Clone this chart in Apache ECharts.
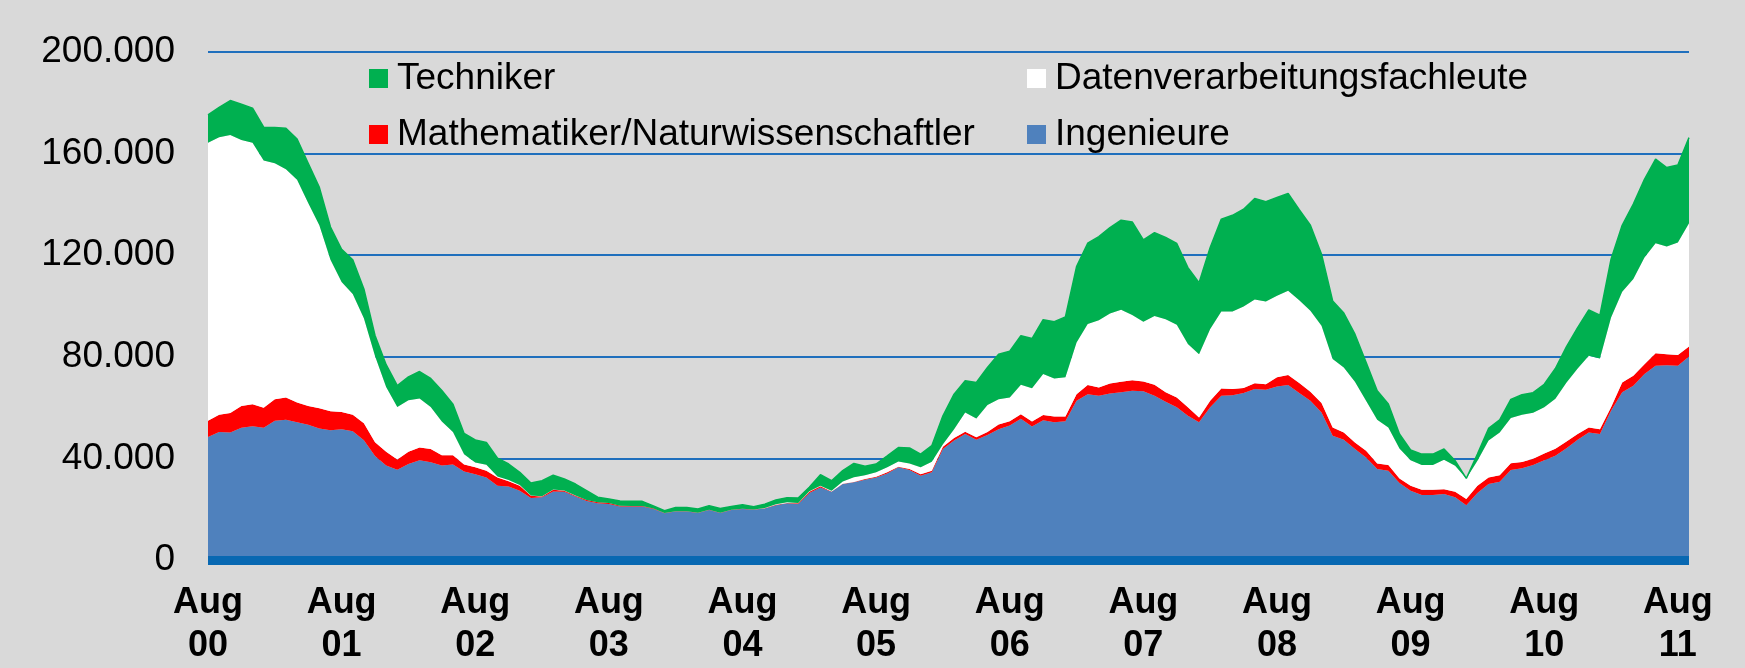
<!DOCTYPE html>
<html>
<head>
<meta charset="utf-8">
<script src="https://cdn.jsdelivr.net/npm/echarts@6/dist/echarts.min.js"></script>
<style>
  html, body { margin: 0; padding: 0; background: #d9d9d9; }
  #chart { width: 1745px; height: 668px; }
</style>
</head>
<body>
<div id="chart"></div>
<script>
// Monate Aug 2000 bis Sep 2011
var monthNames = ['Jan','Feb','Mrz','Apr','Mai','Jun','Jul','Aug','Sep','Okt','Nov','Dez'];
var categories = [];
for (var y = 2000; y <= 2011; y++) {
  for (var m = 0; m < 12; m++) {
    if (y === 2000 && m < 7) continue;
    if (y === 2011 && m > 8) continue;
    categories.push(monthNames[m] + ' ' + String(y).slice(2));
  }
}

var yTicks = [0, 40000, 80000, 120000, 160000, 200000];

// Offene Stellen (Personen)
var ingenieure = [
  48400, 50400, 50200, 52100, 52700, 52100, 54800, 55200, 54200, 53200,
  51800, 51100, 51500, 50700, 47100, 40900, 37200, 35500, 37800, 39300,
  38500, 37200, 37600, 34800, 33800, 32500, 29200, 28900, 27300, 24400,
  24700, 27000, 26900, 25000, 23200, 22300, 22000, 21100, 21100, 21100,
  20100, 18400, 19100, 19100, 18500, 19700, 18500, 19700, 20100, 19800,
  20300, 21600, 22300, 22000, 26400, 28500, 26900, 29900, 30600, 31600,
  32500, 34100, 36500, 35400, 33200, 34500, 43700, 47000, 49600, 47300,
  49200, 51500, 53000, 55600, 52600, 55000, 54200, 54600, 62700, 65300,
  64700, 65600, 66000, 66600, 66400, 64700, 62300, 60100, 56800, 54200,
  60100, 64700, 64900, 65700, 67300, 67000, 68300, 68900, 65700, 62700,
  58100, 48900, 47300, 43700, 40400, 35800, 35100, 30300, 27300, 25600,
  25600, 26000, 24700, 21600, 26400, 29900, 30800, 35400, 36100, 37400,
  39300, 41000, 44000, 47300, 50200, 49600, 58800, 66000, 68600, 73200,
  76500, 76700, 76500, 80100
];
var mathematiker = [
  6400, 6800, 7700, 8500, 8600, 7800, 8500, 8800, 7800, 7400,
  7900, 7500, 6800, 6500, 6700, 5500, 5400, 4100, 4800, 5000,
  5200, 4000, 3600, 2800, 2700, 2600, 3300, 2100, 1900, 900,
  300, 700, 400, 300, 400, 400, 400, 300, 200, 200,
  200, 100, 100, 100, 100, 100, 100, 100, 100, 100,
  100, 200, 100, 300, 500, 500, 100, 100, 100, 300,
  300, 400, 200, 400, 600, 600, 900, 1000, 900, 1000,
  1200, 1800, 1600, 1800, 1900, 2100, 2300, 1900, 2600, 3600,
  3200, 3900, 4200, 4200, 3900, 4300, 3700, 3900, 3300, 1900,
  2600, 2800, 2400, 2000, 2300, 2200, 3600, 3900, 4000, 3500,
  3700, 3300, 2900, 2600, 2600, 2200, 2300, 1800, 1900, 2100,
  2100, 1900, 2200, 2400, 2800, 2600, 2600, 2700, 2500, 2500,
  2600, 2800, 2700, 2300, 2000, 1900, 1300, 3900, 3900, 3900,
  4900, 4300, 4200, 4000
];
var datenverarbeitung = [
  109500, 109200, 109400, 104800, 103000, 97400, 92900, 89800, 87700, 80000,
  72100, 59600, 51100, 47500, 41400, 33900, 25500, 20600, 20300, 19300,
  16500, 13300, 9200, 4000, 1900, 2400, 400, 500, 300, 100,
  100, 100, 100, 100, 0, 0, 0, 0, 0, 0,
  0, 0, 0, 0, 0, 0, 0, 0, 0, 0,
  100, 100, 300, 100, 200, 200, 300, 900, 1900, 1500,
  1700, 2000, 2100, 2200, 2700, 3600, 1000, 3500, 7600, 7400,
  10600, 10000, 9400, 11600, 13100, 16100, 15000, 15400, 20300, 24000,
  26500, 27500, 28300, 25700, 23500, 27100, 28800, 28600, 24900, 24900,
  28200, 30300, 30500, 32100, 33000, 32600, 32100, 33200, 32600, 31900,
  30400, 26900, 25600, 23900, 19700, 17200, 14800, 11800, 10100, 9700,
  9700, 11600, 10200, 8100, 9900, 14500, 16800, 17800, 18600, 18100,
  18200, 19700, 23200, 25800, 28200, 27800, 35400, 35700, 38100, 42000,
  43300, 42400, 44300, 48500
];
var techniker = [
  10900, 11800, 13600, 14000, 13600, 13100, 14100, 16200, 16000, 15600,
  14900, 12900, 12900, 13500, 11500, 8100, 8800, 8500, 9200, 10600,
  11300, 12200, 10900, 8200, 8900, 8800, 7200, 6300, 5000, 4900,
  6100, 5600, 4500, 4500, 3700, 2000, 1600, 1800, 1800, 1800,
  1000, 900, 1500, 1500, 1500, 1600, 1700, 1300, 1600, 1100,
  1500, 1700, 1800, 2000, 1500, 4400, 3900, 4300, 5400, 3500,
  3300, 4500, 5500, 6100, 5200, 6300, 11200, 13800, 12500, 14200,
  14800, 17700, 18200, 19300, 19600, 21400, 22300, 23800, 29900, 31800,
  32900, 33900, 35300, 36600, 32200, 32800, 32200, 32000, 30100, 28200,
  32100, 36400, 37900, 38300, 39700, 39300, 38700, 38300, 35600, 33700,
  28200, 22900, 21400, 18700, 15100, 11400, 9200, 5700, 4000, 4300,
  4300, 4200, 2000, 0, 2600, 4800, 5000, 7300, 7900, 7900,
  9100, 11900, 14100, 16100, 18100, 17100, 22900, 26200, 29500, 30800,
  33100, 31100, 30500, 33700
];

var FONT = "'Liberation Sans', Arial, sans-serif";

function areaSeries(name, data, color, lineWidth) {
  return {
    name: name,
    type: 'line',
    stack: 'gesamt',
    data: data,
    symbol: 'none',
    color: color,
    itemStyle: { color: color },
    lineStyle: { width: lineWidth, color: color },
    areaStyle: { color: color, opacity: 1 },
    emphasis: { disabled: true }
  };
}

function legendBlock(left, names) {
  return {
    orient: 'vertical',
    left: left,
    top: 60,
    padding: 0,
    itemWidth: 19,
    itemHeight: 19,
    itemGap: 19,
    icon: 'rect',
    selectedMode: false,
    data: names,
    textStyle: {
      fontFamily: FONT,
      fontSize: 37,
      lineHeight: 37,
      color: '#000',
      padding: [0, 0, 0, 4]
    }
  };
}

var chart = echarts.init(document.getElementById('chart'));
chart.setOption({
  animation: false,
  backgroundColor: '#d9d9d9',
  grid: { left: 208, right: 56, top: 52, bottom: 107 },
  legend: [
    legendBlock(369, ['Techniker', 'Mathematiker/Naturwissenschaftler']),
    legendBlock(1027, ['Datenverarbeitungsfachleute', 'Ingenieure'])
  ],
  xAxis: {
    type: 'category',
    z: 10,
    data: categories,
    boundaryGap: false,
    axisLine: { show: true, lineStyle: { color: '#0868b2', width: 9, cap: 'butt' } },
    axisTick: { show: false },
    splitLine: { show: false },
    axisLabel: {
      interval: 11,
      margin: 22,
      fontFamily: FONT,
      fontSize: 36,
      fontWeight: 'bold',
      lineHeight: 43,
      color: '#000',
      formatter: function (v) {
        var p = v.split(' ');
        return p[0] + '\n' + p[1];
      }
    }
  },
  yAxis: {
    type: 'value',
    min: yTicks[0],
    max: yTicks[yTicks.length - 1],
    interval: yTicks[1] - yTicks[0],
    axisLine: { show: false },
    axisTick: { show: false },
    splitLine: { show: true, lineStyle: { color: '#1f6fbd', width: 2 } },
    axisLabel: {
      margin: 33,
      fontFamily: FONT,
      fontSize: 37,
      color: '#000',
      formatter: function (v) {
        return v === 0 ? '0' : (v / 1000) + '.000';
      }
    }
  },
  series: [
    areaSeries('Ingenieure', ingenieure, '#4f81bd', 0),
    areaSeries('Mathematiker/Naturwissenschaftler', mathematiker, '#ff0000', 0),
    areaSeries('Datenverarbeitungsfachleute', datenverarbeitung, '#ffffff', 0),
    areaSeries('Techniker', techniker, '#00b050', 1.5)
  ]
});
</script>
</body>
</html>
